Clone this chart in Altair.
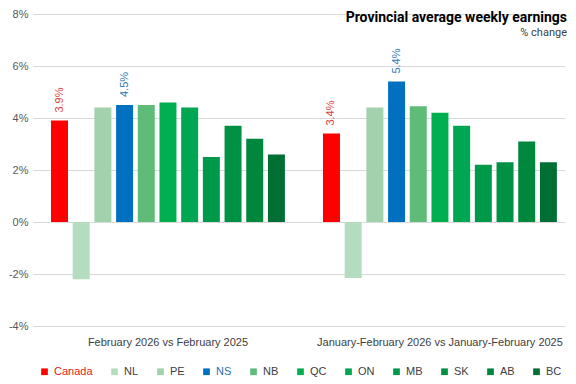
import altair as alt
import pandas as pd

groups = ["February 2026 vs February 2025",
          "January-February 2026 vs January-February 2025"]
provinces = ["Canada", "NL", "PE", "NS", "NB", "QC", "ON", "MB", "SK", "AB", "BC"]
feb_values = [3.9, -2.2, 4.4, 4.5, 4.5, 4.6, 4.4, 2.5, 3.7, 3.2, 2.6]
janfeb_values = [3.4, -2.15, 4.4, 5.4, 4.45, 4.2, 3.7, 2.2, 2.3, 3.1, 2.3]
colors = ["#FF0000", "#B4DCBF", "#A2D2AB", "#0070C0", "#5EBB78", "#00B050",
          "#00A651", "#00994B", "#009145", "#00873E", "#006F33"]
y_ticks = [-4, -2, 0, 2, 4, 6, 8]
title_text = "Provincial average weekly earnings"
subtitle_text = "% change"

rows = []
for g, vals in zip(groups, [feb_values, janfeb_values]):
    for p, v in zip(provinces, vals):
        rows.append({"group": g, "province": p, "value": v})
df = pd.DataFrame(rows)

W, H = 532, 312

base = alt.Chart(df).encode(
    x=alt.X("group:N", sort=groups, title=None,
            scale=alt.Scale(paddingInner=0.14, paddingOuter=0.048, align=0.69),
            axis=alt.Axis(labelAngle=0, domain=False, ticks=False, labelPadding=10,
                          labelFontSize=11, labelColor="#404040", labelLimit=400,
                          labelFont="Liberation Sans", grid=False)),
    xOffset=alt.XOffset("province:N", sort=provinces,
                        scale=alt.Scale(paddingInner=0.217, paddingOuter=0)),
)

bars = base.mark_bar().encode(
    y=alt.Y("value:Q", title=None,
            scale=alt.Scale(domain=[-4, 8], nice=False),
            axis=alt.Axis(values=y_ticks, labelExpr="datum.value + '%'",
                          domain=False, ticks=False, labelPadding=5,
                          labelFontSize=11, labelColor="#595959",
                          labelFont="Liberation Sans",
                          gridColor="#D9D9D9")),
    color=alt.Color("province:N", sort=provinces,
                    scale=alt.Scale(domain=provinces, range=colors),
                    legend=alt.Legend(
                        title=None, orient="none", direction="horizontal",
                        columns=11, legendX=6, legendY=352,
                        symbolType="square", symbolSize=45, symbolStrokeWidth=0,
                        labelFontSize=11, labelFont="Liberation Sans",
                        labelOffset=4, columnPadding=16,
                        labelColor=alt.ExprRef(
                            "datum.label == 'Canada' ? '#E8201E' : datum.label == 'NS' ? '#1F6FB5' : '#404040'"))),
)

labels = base.transform_filter(
    "datum.province == 'Canada' || datum.province == 'NS'"
).transform_calculate(
    lbl="format(datum.value, '.1f') + '%'"
).mark_text(angle=270, align="left", baseline="middle", dx=8,
            fontSize=11, font="Liberation Sans").encode(
    y="value:Q",
    text="lbl:N",
    color=alt.condition(alt.datum.province == "Canada",
                        alt.value("#E0403A"), alt.value("#2E75B6")),
)

title = alt.Chart(pd.DataFrame({"t": [title_text]})).mark_text(
    align="right", baseline="middle", fontSize=14, fontWeight="bold",
    font="Roboto", color="#000000"
).encode(text="t:N", x=alt.value(W + 2), y=alt.value(4))

subtitle = alt.Chart(pd.DataFrame({"t": [subtitle_text]})).mark_text(
    align="right", baseline="middle", fontSize=11, font="Roboto", color="#404040"
).encode(text="t:N", x=alt.value(W + 2), y=alt.value(19))

chart = alt.layer(bars, labels, title, subtitle).properties(
    width=W, height=H, padding={"left": 0, "top": 0, "right": 0, "bottom": 0}
).configure_view(stroke=None)

chart.save("out.html", embed_options={"renderer": "svg", "actions": False})
